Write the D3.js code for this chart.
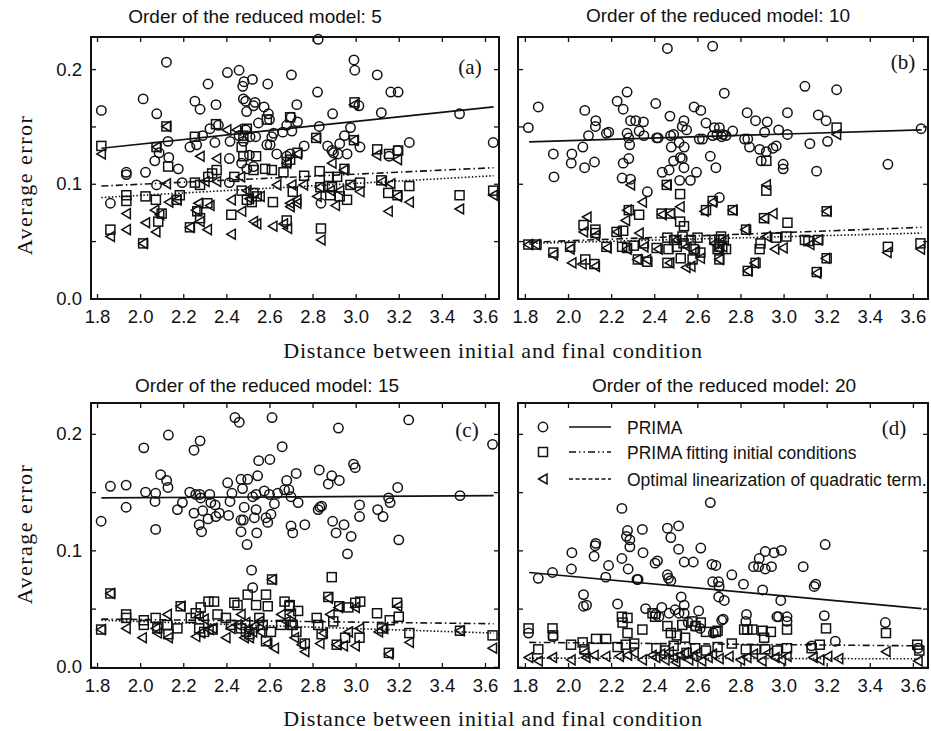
<!DOCTYPE html>
<html><head><meta charset="utf-8">
<script src="https://cdn.jsdelivr.net/npm/d3@7"></script>
<style>body{margin:0;background:#fff}svg{display:block}</style>
</head><body>
<script>
// ---------- data ----------
const xTicks = [1.8,2.0,2.2,2.4,2.6,2.8,3.0,3.2,3.4,3.6];
const xTickLabels = ["1.8","2.0","2.2","2.4","2.6","2.8","3.0","3.2","3.4","3.6"];
const yTicks = [0,0.05,0.1,0.15,0.2];
const yTickLabels = ["0.0","","0.1","","0.2"];
const panelTitles = ["Order of the reduced model: 5","Order of the reduced model: 10","Order of the reduced model: 15","Order of the reduced model: 20"];
const panelTags = ["(a)","(b)","(c)","(d)"];
const seriesNames = ["PRIMA","PRIMA fitting initial conditions","Optimal linearization of quadratic term."];
const fitX = [1.82, 3.64];
// fitted lines [start,end] for PRIMA, PRIMA fitting IC, Optimal linearization
const fitsA = [[0.131,0.167],[0.098,0.114],[0.088,0.107]];
const fitsB = [[0.1365,0.147],[0.049,0.062],[0.048,0.057]];
const fitsC = [[0.145,0.147],[0.041,0.037],[0.040,0.029]];
const fitsD = [[0.081,0.050],[0.021,0.018],[0.0075,0.0069]];

const circlesA = [[1.82,0.164],[1.862,0.083],[1.936,0.110],[1.936,0.108],[2.014,0.174],[2.025,0.110],[2.068,0.120],[2.076,0.099],[2.077,0.161],[2.088,0.127],[2.122,0.206],[2.129,0.137],[2.133,0.123],[2.177,0.113],[2.195,0.101],[2.231,0.132],[2.254,0.172],[2.262,0.134],[2.278,0.165],[2.29,0.142],[2.315,0.187],[2.324,0.148],[2.347,0.136],[2.352,0.169],[2.363,0.151],[2.405,0.197],[2.414,0.122],[2.414,0.101],[2.417,0.137],[2.459,0.199],[2.459,0.142],[2.471,0.118],[2.476,0.185],[2.479,0.174],[2.479,0.137],[2.482,0.189],[2.49,0.172],[2.49,0.147],[2.494,0.163],[2.495,0.113],[2.507,0.125],[2.51,0.141],[2.521,0.191],[2.526,0.168],[2.526,0.115],[2.533,0.171],[2.536,0.141],[2.549,0.153],[2.575,0.167],[2.588,0.134],[2.592,0.187],[2.595,0.161],[2.6,0.156],[2.603,0.134],[2.611,0.141],[2.619,0.144],[2.634,0.126],[2.662,0.145],[2.68,0.151],[2.68,0.124],[2.696,0.126],[2.7,0.158],[2.702,0.195],[2.704,0.146],[2.727,0.169],[2.73,0.154],[2.761,0.133],[2.823,0.180],[2.826,0.226],[2.831,0.150],[2.839,0.083],[2.87,0.133],[2.89,0.129],[2.893,0.161],[2.897,0.127],[2.918,0.126],[2.926,0.135],[2.948,0.142],[2.96,0.126],[2.976,0.149],[2.992,0.208],[2.996,0.199],[3.015,0.168],[3.02,0.132],[3.1,0.195],[3.119,0.162],[3.155,0.124],[3.163,0.180],[3.194,0.129],[3.197,0.180],[3.249,0.136],[3.482,0.161],[3.638,0.136]];
const squaresA = [[1.82,0.133],[1.862,0.060],[1.936,0.090],[1.936,0.085],[2.014,0.048],[2.025,0.089],[2.073,0.086],[2.076,0.132],[2.084,0.067],[2.1,0.074],[2.122,0.150],[2.13,0.115],[2.169,0.086],[2.184,0.090],[2.231,0.062],[2.254,0.141],[2.254,0.101],[2.265,0.076],[2.278,0.099],[2.278,0.070],[2.312,0.083],[2.316,0.106],[2.334,0.109],[2.352,0.152],[2.355,0.112],[2.423,0.073],[2.437,0.106],[2.471,0.132],[2.471,0.094],[2.479,0.142],[2.479,0.124],[2.495,0.148],[2.495,0.086],[2.518,0.084],[2.526,0.112],[2.526,0.092],[2.538,0.124],[2.541,0.089],[2.58,0.113],[2.588,0.156],[2.611,0.112],[2.616,0.084],[2.665,0.110],[2.68,0.119],[2.68,0.068],[2.696,0.158],[2.696,0.121],[2.708,0.093],[2.73,0.127],[2.761,0.107],[2.817,0.140],[2.833,0.111],[2.836,0.097],[2.839,0.061],[2.875,0.106],[2.882,0.090],[2.89,0.097],[2.914,0.106],[2.926,0.089],[2.948,0.113],[2.96,0.086],[2.976,0.099],[2.992,0.138],[2.995,0.171],[3.02,0.101],[3.1,0.130],[3.119,0.103],[3.151,0.092],[3.155,0.126],[3.194,0.090],[3.197,0.129],[3.249,0.098],[3.482,0.090],[3.638,0.094]];
const trianglesA = [[1.82,0.126],[1.862,0.054],[1.936,0.074],[1.936,0.060],[2.014,0.048],[2.025,0.066],[2.068,0.077],[2.073,0.058],[2.076,0.132],[2.091,0.073],[2.122,0.150],[2.122,0.100],[2.133,0.084],[2.171,0.086],[2.231,0.062],[2.259,0.077],[2.27,0.083],[2.278,0.124],[2.278,0.067],[2.301,0.102],[2.312,0.060],[2.324,0.081],[2.355,0.122],[2.355,0.102],[2.402,0.147],[2.423,0.086],[2.423,0.056],[2.448,0.147],[2.466,0.106],[2.471,0.076],[2.495,0.094],[2.507,0.087],[2.526,0.067],[2.541,0.065],[2.557,0.089],[2.616,0.063],[2.634,0.099],[2.665,0.065],[2.68,0.118],[2.684,0.061],[2.696,0.080],[2.695,0.083],[2.704,0.099],[2.727,0.086],[2.727,0.083],[2.73,0.126],[2.758,0.099],[2.817,0.140],[2.821,0.089],[2.833,0.097],[2.839,0.051],[2.882,0.094],[2.89,0.118],[2.906,0.081],[2.926,0.094],[2.945,0.112],[2.98,0.099],[2.992,0.169],[2.992,0.138],[3.02,0.093],[3.097,0.125],[3.124,0.102],[3.151,0.076],[3.163,0.100],[3.194,0.121],[3.194,0.089],[3.249,0.084],[3.482,0.078],[3.638,0.090]];

const circlesB = [[1.816,0.149],[1.862,0.167],[1.932,0.126],[1.935,0.106],[2.015,0.118],[2.018,0.126],[2.069,0.132],[2.077,0.114],[2.078,0.164],[2.095,0.142],[2.123,0.119],[2.127,0.150],[2.129,0.155],[2.178,0.144],[2.189,0.145],[2.228,0.172],[2.251,0.105],[2.256,0.165],[2.256,0.118],[2.274,0.180],[2.274,0.144],[2.282,0.140],[2.282,0.122],[2.286,0.134],[2.29,0.155],[2.29,0.104],[2.314,0.155],[2.33,0.146],[2.35,0.154],[2.352,0.142],[2.368,0.093],[2.407,0.170],[2.411,0.140],[2.418,0.140],[2.437,0.110],[2.461,0.218],[2.469,0.112],[2.473,0.159],[2.476,0.142],[2.479,0.132],[2.49,0.143],[2.49,0.120],[2.515,0.136],[2.518,0.103],[2.521,0.123],[2.53,0.150],[2.53,0.122],[2.538,0.155],[2.538,0.114],[2.539,0.132],[2.55,0.147],[2.568,0.103],[2.585,0.167],[2.596,0.110],[2.609,0.139],[2.616,0.164],[2.624,0.139],[2.64,0.153],[2.66,0.124],[2.671,0.220],[2.671,0.142],[2.679,0.149],[2.686,0.114],[2.691,0.143],[2.702,0.149],[2.702,0.088],[2.713,0.141],[2.718,0.143],[2.725,0.179],[2.733,0.142],[2.764,0.146],[2.819,0.139],[2.831,0.162],[2.834,0.139],[2.842,0.132],[2.87,0.155],[2.889,0.130],[2.896,0.120],[2.912,0.145],[2.92,0.128],[2.924,0.154],[2.951,0.131],[2.966,0.133],[2.977,0.147],[2.998,0.117],[2.998,0.113],[3.018,0.162],[3.018,0.143],[3.099,0.185],[3.122,0.135],[3.153,0.111],[3.161,0.160],[3.197,0.155],[3.204,0.137],[3.246,0.182],[3.484,0.117],[3.638,0.148]];
const squaresB = [[1.816,0.047],[1.854,0.047],[1.932,0.040],[2.01,0.045],[2.072,0.064],[2.08,0.034],[2.122,0.030],[2.127,0.060],[2.127,0.057],[2.178,0.045],[2.225,0.058],[2.251,0.045],[2.256,0.059],[2.274,0.044],[2.282,0.077],[2.305,0.046],[2.324,0.034],[2.33,0.073],[2.352,0.048],[2.368,0.032],[2.411,0.044],[2.434,0.074],[2.458,0.099],[2.461,0.053],[2.461,0.031],[2.466,0.043],[2.473,0.074],[2.492,0.051],[2.505,0.045],[2.52,0.091],[2.52,0.067],[2.523,0.035],[2.531,0.054],[2.536,0.048],[2.538,0.063],[2.57,0.051],[2.578,0.034],[2.583,0.043],[2.601,0.053],[2.614,0.040],[2.64,0.077],[2.671,0.085],[2.679,0.051],[2.694,0.043],[2.702,0.034],[2.702,0.051],[2.702,0.045],[2.71,0.054],[2.733,0.043],[2.764,0.077],[2.826,0.060],[2.834,0.024],[2.87,0.031],[2.889,0.043],[2.893,0.048],[2.909,0.070],[2.92,0.120],[2.92,0.094],[2.966,0.053],[3.013,0.054],[3.018,0.066],[3.099,0.051],[3.115,0.050],[3.154,0.023],[3.161,0.051],[3.2,0.076],[3.2,0.035],[3.246,0.149],[3.484,0.045],[3.635,0.048]];
const trianglesB = [[1.816,0.047],[1.85,0.047],[1.932,0.038],[2.01,0.043],[2.018,0.031],[2.065,0.030],[2.072,0.058],[2.088,0.071],[2.127,0.055],[2.127,0.028],[2.181,0.044],[2.228,0.058],[2.267,0.068],[2.274,0.077],[2.274,0.043],[2.29,0.099],[2.321,0.034],[2.33,0.057],[2.345,0.084],[2.352,0.045],[2.365,0.034],[2.418,0.043],[2.437,0.073],[2.458,0.099],[2.472,0.031],[2.476,0.074],[2.505,0.051],[2.52,0.080],[2.547,0.027],[2.552,0.045],[2.57,0.028],[2.591,0.041],[2.614,0.035],[2.632,0.076],[2.671,0.084],[2.679,0.048],[2.702,0.043],[2.702,0.034],[2.718,0.045],[2.725,0.051],[2.764,0.077],[2.822,0.060],[2.834,0.024],[2.865,0.031],[2.912,0.070],[2.92,0.099],[2.92,0.054],[2.951,0.074],[2.959,0.043],[2.998,0.044],[3.122,0.047],[3.154,0.022],[3.161,0.051],[3.195,0.035],[3.2,0.076],[3.246,0.143],[3.48,0.040],[3.635,0.043]];

const circlesC = [[1.819,0.125],[1.862,0.155],[1.935,0.156],[1.935,0.137],[2.017,0.188],[2.025,0.150],[2.069,0.142],[2.072,0.149],[2.072,0.118],[2.095,0.165],[2.123,0.160],[2.129,0.154],[2.131,0.199],[2.173,0.135],[2.196,0.141],[2.23,0.150],[2.25,0.186],[2.25,0.132],[2.258,0.148],[2.274,0.122],[2.277,0.148],[2.278,0.194],[2.281,0.145],[2.285,0.116],[2.29,0.134],[2.315,0.127],[2.323,0.148],[2.328,0.141],[2.348,0.139],[2.351,0.129],[2.367,0.132],[2.406,0.158],[2.41,0.130],[2.417,0.142],[2.426,0.149],[2.44,0.214],[2.46,0.210],[2.468,0.161],[2.468,0.126],[2.468,0.116],[2.475,0.153],[2.479,0.126],[2.483,0.137],[2.496,0.105],[2.499,0.161],[2.517,0.083],[2.522,0.146],[2.522,0.068],[2.53,0.128],[2.538,0.148],[2.538,0.135],[2.541,0.115],[2.545,0.164],[2.55,0.177],[2.576,0.151],[2.584,0.128],[2.592,0.124],[2.6,0.148],[2.602,0.178],[2.607,0.131],[2.612,0.214],[2.623,0.140],[2.638,0.149],[2.659,0.189],[2.67,0.152],[2.68,0.160],[2.69,0.152],[2.7,0.146],[2.7,0.121],[2.708,0.115],[2.724,0.166],[2.733,0.141],[2.764,0.122],[2.826,0.135],[2.831,0.169],[2.834,0.137],[2.842,0.138],[2.873,0.157],[2.889,0.164],[2.893,0.125],[2.909,0.115],[2.92,0.205],[2.924,0.160],[2.946,0.122],[2.962,0.097],[2.979,0.112],[2.99,0.174],[2.998,0.171],[3.018,0.139],[3.018,0.129],[3.102,0.135],[3.127,0.129],[3.153,0.145],[3.16,0.141],[3.195,0.154],[3.2,0.109],[3.246,0.212],[3.484,0.147],[3.635,0.191]];
const squaresC = [[1.819,0.032],[1.862,0.063],[1.935,0.045],[1.935,0.042],[2.017,0.040],[2.017,0.036],[2.072,0.042],[2.08,0.033],[2.126,0.036],[2.131,0.028],[2.173,0.033],[2.188,0.052],[2.235,0.042],[2.258,0.046],[2.274,0.033],[2.281,0.051],[2.297,0.030],[2.317,0.056],[2.336,0.032],[2.343,0.056],[2.359,0.045],[2.398,0.042],[2.421,0.036],[2.437,0.055],[2.452,0.053],[2.468,0.033],[2.491,0.030],[2.499,0.062],[2.507,0.028],[2.538,0.053],[2.553,0.042],[2.569,0.036],[2.584,0.062],[2.584,0.022],[2.592,0.052],[2.607,0.030],[2.612,0.075],[2.654,0.036],[2.67,0.056],[2.693,0.052],[2.694,0.053],[2.702,0.036],[2.708,0.036],[2.725,0.030],[2.733,0.048],[2.764,0.020],[2.819,0.042],[2.826,0.036],[2.842,0.028],[2.873,0.060],[2.889,0.077],[2.896,0.039],[2.912,0.019],[2.924,0.052],[2.951,0.025],[2.966,0.051],[2.998,0.055],[3.018,0.025],[3.021,0.056],[3.099,0.046],[3.122,0.033],[3.154,0.012],[3.158,0.040],[3.192,0.055],[3.2,0.043],[3.249,0.029],[3.484,0.031],[3.635,0.027]];
const trianglesC = [[1.819,0.032],[1.862,0.063],[1.935,0.033],[2.01,0.025],[2.072,0.033],[2.08,0.029],[2.126,0.045],[2.131,0.025],[2.188,0.052],[2.258,0.026],[2.274,0.043],[2.281,0.029],[2.297,0.041],[2.32,0.032],[2.336,0.033],[2.398,0.025],[2.421,0.033],[2.45,0.036],[2.468,0.045],[2.483,0.025],[2.49,0.038],[2.5,0.032],[2.507,0.025],[2.522,0.030],[2.53,0.035],[2.553,0.039],[2.56,0.030],[2.592,0.020],[2.612,0.075],[2.623,0.016],[2.654,0.045],[2.677,0.039],[2.702,0.045],[2.716,0.025],[2.749,0.019],[2.764,0.013],[2.834,0.020],[2.85,0.029],[2.873,0.059],[2.881,0.045],[2.912,0.019],[2.92,0.051],[2.943,0.018],[2.966,0.030],[2.998,0.051],[2.998,0.018],[3.018,0.033],[3.106,0.030],[3.13,0.033],[3.154,0.011],[3.195,0.052],[3.249,0.021],[3.484,0.031],[3.635,0.016]];

const circlesD = [[1.817,0.029],[1.862,0.076],[1.928,0.081],[1.93,0.026],[2.016,0.084],[2.018,0.098],[2.072,0.062],[2.072,0.052],[2.086,0.053],[2.121,0.095],[2.126,0.104],[2.129,0.106],[2.175,0.077],[2.188,0.087],[2.23,0.054],[2.25,0.136],[2.25,0.093],[2.271,0.112],[2.276,0.117],[2.279,0.084],[2.287,0.109],[2.287,0.103],[2.32,0.075],[2.325,0.075],[2.345,0.118],[2.348,0.098],[2.36,0.050],[2.404,0.089],[2.407,0.045],[2.415,0.091],[2.422,0.043],[2.435,0.051],[2.461,0.119],[2.461,0.079],[2.466,0.076],[2.469,0.046],[2.477,0.111],[2.477,0.074],[2.497,0.049],[2.513,0.121],[2.513,0.101],[2.515,0.046],[2.525,0.060],[2.539,0.090],[2.539,0.053],[2.539,0.046],[2.558,0.038],[2.581,0.090],[2.589,0.035],[2.606,0.048],[2.613,0.033],[2.616,0.102],[2.66,0.141],[2.668,0.088],[2.671,0.073],[2.674,0.029],[2.686,0.087],[2.698,0.073],[2.699,0.060],[2.701,0.069],[2.713,0.040],[2.72,0.041],[2.725,0.057],[2.76,0.079],[2.814,0.071],[2.825,0.039],[2.828,0.045],[2.861,0.086],[2.884,0.086],[2.887,0.093],[2.903,0.066],[2.915,0.099],[2.915,0.084],[2.944,0.086],[2.956,0.098],[2.969,0.043],[2.977,0.043],[2.987,0.057],[2.99,0.100],[3.016,0.043],[3.016,0.039],[3.091,0.086],[3.13,0.018],[3.142,0.069],[3.149,0.071],[3.189,0.044],[3.193,0.105],[3.24,0.022],[3.472,0.038],[3.624,0.016]];
const squaresD = [[1.817,0.033],[1.862,0.015],[1.928,0.033],[1.931,0.027],[2.014,0.019],[2.068,0.021],[2.076,0.015],[2.13,0.024],[2.177,0.024],[2.23,0.017],[2.25,0.043],[2.253,0.038],[2.268,0.019],[2.276,0.042],[2.276,0.029],[2.307,0.020],[2.345,0.032],[2.392,0.046],[2.404,0.043],[2.41,0.016],[2.45,0.014],[2.461,0.035],[2.477,0.029],[2.49,0.018],[2.505,0.027],[2.53,0.036],[2.543,0.025],[2.55,0.012],[2.577,0.039],[2.59,0.016],[2.592,0.035],[2.616,0.038],[2.64,0.030],[2.64,0.014],[2.686,0.030],[2.694,0.031],[2.694,0.017],[2.76,0.020],[2.817,0.032],[2.825,0.015],[2.832,0.032],[2.855,0.032],[2.87,0.015],[2.903,0.031],[2.91,0.025],[2.915,0.015],[2.941,0.030],[2.97,0.014],[3.016,0.032],[3.016,0.016],[3.13,0.016],[3.168,0.019],[3.197,0.033],[3.475,0.029],[3.62,0.019],[3.63,0.014]];
const trianglesD = [[1.817,0.008],[1.862,0.005],[1.928,0.008],[2.014,0.006],[2.076,0.012],[2.083,0.008],[2.121,0.010],[2.175,0.009],[2.238,0.009],[2.276,0.010],[2.307,0.012],[2.345,0.006],[2.39,0.010],[2.407,0.008],[2.43,0.011],[2.45,0.006],[2.47,0.013],[2.49,0.008],[2.5,0.004],[2.52,0.010],[2.54,0.012],[2.56,0.006],[2.58,0.009],[2.6,0.012],[2.62,0.005],[2.65,0.008],[2.67,0.011],[2.701,0.007],[2.747,0.009],[2.8,0.006],[2.83,0.008],[2.86,0.011],[2.9,0.005],[2.93,0.012],[2.96,0.008],[2.99,0.006],[3.016,0.009],[3.137,0.008],[3.168,0.006],[3.205,0.009],[3.256,0.007],[3.475,0.013],[3.624,0.005]];

// ---------- layout ----------
const W = 931, H = 731;
const svg = d3.select("body").append("svg").attr("width", W).attr("height", H);
const sans = "'Liberation Sans', Arial, Helvetica, sans-serif";
const serif = "'Liberation Serif', 'Times New Roman', serif";

const panels = [
  {x0:91,  x1:499, y0:37,  y1:299, xd:[1.772,3.665], yd:[-0.0005,0.228], c:circlesA, s:squaresA, t:trianglesA, f:fitsA, yLabels:true,  titleX:255, titleY:23, tagX:470, tagY:74},
  {x0:518, x1:928, y0:37,  y1:299, xd:[1.768,3.670], yd:[-0.0005,0.228], c:circlesB, s:squaresB, t:trianglesB, f:fitsB, yLabels:false, titleX:718, titleY:22, tagX:903, tagY:69},
  {x0:91,  x1:499, y0:403, y1:668, xd:[1.772,3.665], yd:[-0.001,0.2265], c:circlesC, s:squaresC, t:trianglesC, f:fitsC, yLabels:true,  titleX:267, titleY:392, tagX:467, tagY:437},
  {x0:518, x1:928, y0:403, y1:668, xd:[1.768,3.670], yd:[-0.001,0.2265], c:circlesD, s:squaresD, t:trianglesD, f:fitsD, yLabels:false, titleX:724, titleY:392, tagX:894, tagY:435}
];

const triPath = "M-4.5,0L4,-5L4,5Z";
const dashes = [null, "7,3,1.5,3", "1.5,2"];
const stroke = "#111";

panels.forEach((p, i) => {
  const x = d3.scaleLinear().domain(p.xd).range([p.x0, p.x1]);
  const y = d3.scaleLinear().domain(p.yd).range([p.y1, p.y0]);
  const g = svg.append("g");

  // title
  g.append("text").attr("x", p.titleX).attr("y", p.titleY).attr("text-anchor","middle")
    .attr("font-family", sans).attr("font-size", 19).attr("fill","#111").text(panelTitles[i]);

  // axes with inward ticks on all sides
  const axB = d3.axisBottom(x).tickValues(xTicks).tickSizeInner(-5).tickSizeOuter(0)
    .tickFormat((d,k) => xTickLabels[k]).tickPadding(11);
  const gb = g.append("g").attr("transform", `translate(0,${p.y1})`).call(axB);
  const axT = d3.axisTop(x).tickValues(xTicks).tickSizeInner(-5).tickSizeOuter(0).tickFormat("");
  const gt = g.append("g").attr("transform", `translate(0,${p.y0})`).call(axT);
  const axL = d3.axisLeft(y).tickValues(yTicks).tickSizeInner(-5).tickSizeOuter(0)
    .tickFormat((d,k) => p.yLabels ? yTickLabels[k] : "").tickPadding(9);
  const gl = g.append("g").attr("transform", `translate(${p.x0},0)`).call(axL);
  const axR = d3.axisRight(y).tickValues(yTicks).tickSizeInner(-5).tickSizeOuter(0).tickFormat("");
  const gr = g.append("g").attr("transform", `translate(${p.x1},0)`).call(axR);
  [gb,gt,gl,gr].forEach(a => {
    a.select(".domain").remove();
    a.selectAll(".tick line").attr("stroke", stroke).attr("stroke-width", 1.3);
    a.selectAll("text").attr("font-family", sans).attr("font-size", 18.5).attr("fill","#111");
  });

  // frame
  g.append("rect").attr("x", p.x0).attr("y", p.y0).attr("width", p.x1 - p.x0).attr("height", p.y1 - p.y0)
    .attr("fill","none").attr("stroke", stroke).attr("stroke-width", 2);

  // markers
  const mk = g.append("g").attr("fill","none").attr("stroke", stroke).attr("stroke-width", 1.5);
  mk.selectAll("path.tri").data(p.t).join("path").attr("class","tri")
    .attr("d", triPath).attr("transform", d => `translate(${x(d[0])},${y(d[1])})`);
  mk.selectAll("rect.sq").data(p.s).join("rect").attr("class","sq")
    .attr("x", d => x(d[0]) - 4.5).attr("y", d => y(d[1]) - 4.5).attr("width", 9).attr("height", 9);
  mk.selectAll("circle").data(p.c).join("circle")
    .attr("cx", d => x(d[0])).attr("cy", d => y(d[1])).attr("r", 4.7);

  // fitted lines
  const line = d3.line().x(d => x(d[0])).y(d => y(d[1]));
  p.f.forEach((f, k) => {
    g.append("path").datum([[fitX[0], f[0]], [fitX[1], f[1]]]).attr("d", line)
      .attr("fill","none").attr("stroke", stroke).attr("stroke-width", k === 0 ? 1.7 : 1.6)
      .attr("stroke-dasharray", dashes[k]);
  });

  // panel tag
  g.append("text").attr("x", p.tagX).attr("y", p.tagY).attr("text-anchor","middle")
    .attr("font-family", serif).attr("font-size", 21).attr("fill","#111").text(panelTags[i]);
});

// legend in panel (d)
const legRows = [427, 452, 479];
const lg = svg.append("g");
const legDash = [null, "7,3,1.5,3,1.5,3", "4,2.5"];
legRows.forEach((ry, k) => {
  const mx = 543;
  if (k === 0) lg.append("circle").attr("cx", mx).attr("cy", ry).attr("r", 4.7);
  else if (k === 1) lg.append("rect").attr("x", mx - 4.5).attr("y", ry - 4.5).attr("width", 9).attr("height", 9);
  else lg.append("path").attr("d", triPath).attr("transform", `translate(${mx},${ry})`);
  lg.append("line").attr("x1", 569).attr("x2", 611).attr("y1", ry).attr("y2", ry)
    .attr("stroke", stroke).attr("stroke-width", 1.6).attr("stroke-dasharray", legDash[k]);
  lg.append("text").attr("x", 627).attr("y", ry + 6.5).attr("font-family", sans).attr("font-size", 17.5)
    .attr("fill","#111").attr("stroke","none").text(seriesNames[k]);
});
lg.selectAll("circle,rect,path").attr("fill","none").attr("stroke", stroke).attr("stroke-width", 1.5);

// axis titles
[185, 534].forEach(cy => {
  svg.append("text").attr("transform", `translate(32,${cy}) rotate(-90)`).attr("text-anchor","middle")
    .attr("font-family", serif).attr("font-size", 22).attr("letter-spacing", 1.5).attr("fill","#111").text("Average error");
});
[358, 726].forEach(by => {
  svg.append("text").attr("x", 493).attr("y", by).attr("text-anchor","middle")
    .attr("font-family", serif).attr("font-size", 22).attr("letter-spacing", 0.8).attr("fill","#111")
    .text("Distance between initial and final condition");
});
</script>
</body></html>
